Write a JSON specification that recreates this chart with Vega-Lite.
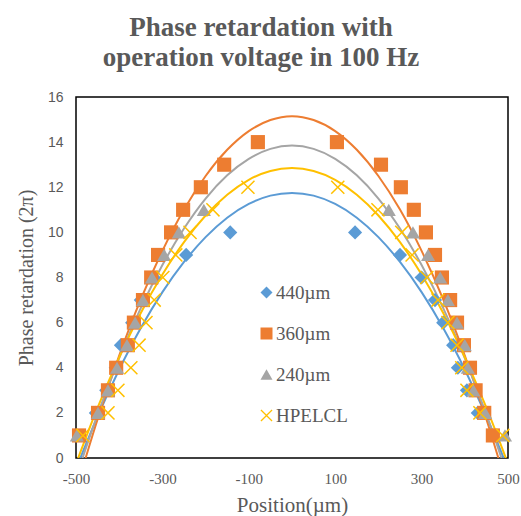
{
  "$schema": "https://vega.github.io/schema/vega-lite/v6.json",
  "width": 432,
  "height": 361,
  "autosize": {"type": "none"},
  "padding": {"left": 76, "top": 97, "right": 13, "bottom": 58},
  "title": {
    "text": ["Phase retardation with", "operation voltage in 100 Hz"],
    "font": "Liberation Serif",
    "fontSize": 27,
    "fontWeight": "bold",
    "color": "#595959",
    "lineHeight": 30,
    "anchor": "middle",
    "frame": "group",
    "dx": -31,
    "offset": 18
  },
  "config": {
    "view": {"stroke": "#000000", "strokeWidth": 1.5},
    "axis": {"grid": false, "domain": false, "ticks": false, "labelColor": "#595959", "titleColor": "#595959", "titleFont": "Liberation Serif", "titleFontWeight": "normal"},
    "axisX": {"labelFont": "Liberation Serif", "labelFontSize": 15},
    "axisY": {"labelFont": "Liberation Sans", "labelFontSize": 14},
    "legend": {"labelFont": "Liberation Serif", "labelFontSize": 19, "labelColor": "#595959", "labelOffset": 0, "symbolSize": 144, "rowPadding": 21, "padding": 0, "symbolStrokeWidth": 0}
  },
  "datasets": {
    "fit": [
      {"series": "440µm", "x": -500, "y": -0.48}, {"series": "440µm", "x": -450, "y": 1.84}, {"series": "440µm", "x": -400, "y": 3.92}, {"series": "440µm", "x": -350, "y": 5.76}, {"series": "440µm", "x": -300, "y": 7.35}, {"series": "440µm", "x": -250, "y": 8.69}, {"series": "440µm", "x": -200, "y": 9.79}, {"series": "440µm", "x": -150, "y": 10.65}, {"series": "440µm", "x": -100, "y": 11.26}, {"series": "440µm", "x": -50, "y": 11.63}, {"series": "440µm", "x": 0, "y": 11.75}, {"series": "440µm", "x": 50, "y": 11.63}, {"series": "440µm", "x": 100, "y": 11.26}, {"series": "440µm", "x": 150, "y": 10.65}, {"series": "440µm", "x": 200, "y": 9.79}, {"series": "440µm", "x": 250, "y": 8.69}, {"series": "440µm", "x": 300, "y": 7.35}, {"series": "440µm", "x": 350, "y": 5.76}, {"series": "440µm", "x": 400, "y": 3.92}, {"series": "440µm", "x": 450, "y": 1.84}, {"series": "440µm", "x": 500, "y": -0.48},
      {"series": "360µm", "x": -500, "y": -1.43}, {"series": "360µm", "x": -450, "y": 1.72}, {"series": "360µm", "x": -400, "y": 4.54}, {"series": "360µm", "x": -350, "y": 7.03}, {"series": "360µm", "x": -300, "y": 9.18}, {"series": "360µm", "x": -250, "y": 11.01}, {"series": "360µm", "x": -200, "y": 12.5}, {"series": "360µm", "x": -150, "y": 13.66}, {"series": "360µm", "x": -100, "y": 14.49}, {"series": "360µm", "x": -50, "y": 14.98}, {"series": "360µm", "x": 0, "y": 15.15}, {"series": "360µm", "x": 50, "y": 14.98}, {"series": "360µm", "x": 100, "y": 14.49}, {"series": "360µm", "x": 150, "y": 13.66}, {"series": "360µm", "x": 200, "y": 12.5}, {"series": "360µm", "x": 250, "y": 11.01}, {"series": "360µm", "x": 300, "y": 9.18}, {"series": "360µm", "x": 350, "y": 7.03}, {"series": "360µm", "x": 400, "y": 4.54}, {"series": "360µm", "x": 450, "y": 1.72}, {"series": "360µm", "x": 500, "y": -1.43},
      {"series": "240µm", "x": -500, "y": -0.87}, {"series": "240µm", "x": -450, "y": 1.93}, {"series": "240µm", "x": -400, "y": 4.43}, {"series": "240µm", "x": -350, "y": 6.64}, {"series": "240µm", "x": -300, "y": 8.55}, {"series": "240µm", "x": -250, "y": 10.17}, {"series": "240µm", "x": -200, "y": 11.5}, {"series": "240µm", "x": -150, "y": 12.53}, {"series": "240µm", "x": -100, "y": 13.26}, {"series": "240µm", "x": -50, "y": 13.7}, {"series": "240µm", "x": 0, "y": 13.85}, {"series": "240µm", "x": 50, "y": 13.7}, {"series": "240µm", "x": 100, "y": 13.26}, {"series": "240µm", "x": 150, "y": 12.53}, {"series": "240µm", "x": 200, "y": 11.5}, {"series": "240µm", "x": 250, "y": 10.17}, {"series": "240µm", "x": 300, "y": 8.55}, {"series": "240µm", "x": 350, "y": 6.64}, {"series": "240µm", "x": 400, "y": 4.43}, {"series": "240µm", "x": 450, "y": 1.93}, {"series": "240µm", "x": 500, "y": -0.87},
      {"series": "HPELCL", "x": -500, "y": -0.26}, {"series": "HPELCL", "x": -450, "y": 2.23}, {"series": "HPELCL", "x": -400, "y": 4.46}, {"series": "HPELCL", "x": -350, "y": 6.43}, {"series": "HPELCL", "x": -300, "y": 8.13}, {"series": "HPELCL", "x": -250, "y": 9.57}, {"series": "HPELCL", "x": -200, "y": 10.75}, {"series": "HPELCL", "x": -150, "y": 11.67}, {"series": "HPELCL", "x": -100, "y": 12.33}, {"series": "HPELCL", "x": -50, "y": 12.72}, {"series": "HPELCL", "x": 0, "y": 12.85}, {"series": "HPELCL", "x": 50, "y": 12.72}, {"series": "HPELCL", "x": 100, "y": 12.33}, {"series": "HPELCL", "x": 150, "y": 11.67}, {"series": "HPELCL", "x": 200, "y": 10.75}, {"series": "HPELCL", "x": 250, "y": 9.57}, {"series": "HPELCL", "x": 300, "y": 8.13}, {"series": "HPELCL", "x": 350, "y": 6.43}, {"series": "HPELCL", "x": 400, "y": 4.46}, {"series": "HPELCL", "x": 450, "y": 2.23}, {"series": "HPELCL", "x": 500, "y": -0.26}
    ],
    "pts": [
      {"series": "440µm", "x": -454, "y": 2}, {"series": "440µm", "x": -430, "y": 3}, {"series": "440µm", "x": -408, "y": 4}, {"series": "440µm", "x": -396, "y": 5}, {"series": "440µm", "x": -370, "y": 6}, {"series": "440µm", "x": -350, "y": 7}, {"series": "440µm", "x": -320, "y": 8}, {"series": "440µm", "x": -245, "y": 9}, {"series": "440µm", "x": -143, "y": 10},
      {"series": "440µm", "x": 146, "y": 10}, {"series": "440µm", "x": 250, "y": 9}, {"series": "440µm", "x": 300, "y": 8}, {"series": "440µm", "x": 331, "y": 7}, {"series": "440µm", "x": 350, "y": 6}, {"series": "440µm", "x": 373, "y": 5}, {"series": "440µm", "x": 384, "y": 4}, {"series": "440µm", "x": 405, "y": 3}, {"series": "440µm", "x": 430, "y": 2},
      {"series": "360µm", "x": -493, "y": 1}, {"series": "360µm", "x": -449, "y": 2}, {"series": "360µm", "x": -426, "y": 3}, {"series": "360µm", "x": -407, "y": 4}, {"series": "360µm", "x": -380, "y": 5}, {"series": "360µm", "x": -366, "y": 6}, {"series": "360µm", "x": -345, "y": 7}, {"series": "360µm", "x": -326, "y": 8}, {"series": "360µm", "x": -310, "y": 9}, {"series": "360µm", "x": -280, "y": 10}, {"series": "360µm", "x": -252, "y": 11}, {"series": "360µm", "x": -211, "y": 12}, {"series": "360µm", "x": -157, "y": 13}, {"series": "360µm", "x": -79, "y": 14},
      {"series": "360µm", "x": 104, "y": 14}, {"series": "360µm", "x": 206, "y": 13}, {"series": "360µm", "x": 252, "y": 12}, {"series": "360µm", "x": 282, "y": 11}, {"series": "360µm", "x": 310, "y": 10}, {"series": "360µm", "x": 331, "y": 9}, {"series": "360µm", "x": 347, "y": 8}, {"series": "360µm", "x": 366, "y": 7}, {"series": "360µm", "x": 382, "y": 6}, {"series": "360µm", "x": 398, "y": 5}, {"series": "360µm", "x": 412, "y": 4}, {"series": "360µm", "x": 425, "y": 3}, {"series": "360µm", "x": 445, "y": 2}, {"series": "360µm", "x": 465, "y": 1},
      {"series": "240µm", "x": -498, "y": 1}, {"series": "240µm", "x": -449, "y": 2}, {"series": "240µm", "x": -426, "y": 3}, {"series": "240µm", "x": -405, "y": 4}, {"series": "240µm", "x": -382, "y": 5}, {"series": "240µm", "x": -363, "y": 6}, {"series": "240µm", "x": -345, "y": 7}, {"series": "240µm", "x": -324, "y": 8}, {"series": "240µm", "x": -296, "y": 9}, {"series": "240µm", "x": -262, "y": 10}, {"series": "240µm", "x": -204, "y": 11},
      {"series": "240µm", "x": 224, "y": 11}, {"series": "240µm", "x": 280, "y": 10}, {"series": "240µm", "x": 315, "y": 9}, {"series": "240µm", "x": 343, "y": 8}, {"series": "240µm", "x": 361, "y": 7}, {"series": "240µm", "x": 382, "y": 6}, {"series": "240µm", "x": 400, "y": 5}, {"series": "240µm", "x": 407, "y": 4}, {"series": "240µm", "x": 420, "y": 3}, {"series": "240µm", "x": 447, "y": 2}, {"series": "240µm", "x": 493, "y": 1},
      {"series": "HPELCL", "x": -484, "y": 1}, {"series": "HPELCL", "x": -426, "y": 2}, {"series": "HPELCL", "x": -403, "y": 3}, {"series": "HPELCL", "x": -373, "y": 4}, {"series": "HPELCL", "x": -354, "y": 5}, {"series": "HPELCL", "x": -338, "y": 6}, {"series": "HPELCL", "x": -319, "y": 7}, {"series": "HPELCL", "x": -299, "y": 8}, {"series": "HPELCL", "x": -269, "y": 9}, {"series": "HPELCL", "x": -236, "y": 10}, {"series": "HPELCL", "x": -183, "y": 11}, {"series": "HPELCL", "x": -102, "y": 12},
      {"series": "HPELCL", "x": 106, "y": 12}, {"series": "HPELCL", "x": 199, "y": 11}, {"series": "HPELCL", "x": 254, "y": 10}, {"series": "HPELCL", "x": 278, "y": 9}, {"series": "HPELCL", "x": 312, "y": 8}, {"series": "HPELCL", "x": 338, "y": 7}, {"series": "HPELCL", "x": 361, "y": 6}, {"series": "HPELCL", "x": 382, "y": 5}, {"series": "HPELCL", "x": 393, "y": 4}, {"series": "HPELCL", "x": 405, "y": 3}, {"series": "HPELCL", "x": 435, "y": 2}, {"series": "HPELCL", "x": 488, "y": 1}
    ]
  },
  "layer": [
    {
      "data": {"name": "fit"},
      "mark": {"type": "line", "clip": true, "strokeWidth": 2, "interpolate": "monotone"},
      "encoding": {
        "x": {"field": "x", "type": "quantitative", "scale": {"domain": [-500, 500], "nice": false},
          "axis": {"values": [-500, -300, -100, 100, 300, 500], "title": "Position(µm)", "labelFlush": false,
            "labelExpr": "datum.value < 0 ? '-' + abs(datum.value) : '' + datum.value",
            "labelFont": "Liberation Serif", "labelFontSize": 15, "labelPadding": 13,
            "titleFontSize": 21, "titlePadding": 8}},
        "y": {"field": "y", "type": "quantitative", "scale": {"domain": [0, 16], "nice": false},
          "axis": {"values": [0, 2, 4, 6, 8, 10, 12, 14, 16], "title": "Phase retardation (2π)",
            "labelFont": "Liberation Sans", "labelFontSize": 14, "labelPadding": 13,
            "titleFontSize": 20, "titlePadding": 11}},
        "color": {"field": "series", "type": "nominal",
          "scale": {"domain": ["440µm", "360µm", "240µm", "HPELCL"], "range": ["#5B9BD5", "#ED7D31", "#A5A5A5", "#FFC000"]}},
        "detail": {"field": "series"}
      }
    },
    {
      "data": {"name": "pts"},
      "mark": {"type": "point", "filled": true, "opacity": 1, "size": 200, "strokeWidth": 0},
      "encoding": {
        "x": {"field": "x", "type": "quantitative"},
        "y": {"field": "y", "type": "quantitative"},
        "color": {"field": "series", "type": "nominal",
          "scale": {"domain": ["440µm", "360µm", "240µm", "HPELCL"], "range": ["#5B9BD5", "#ED7D31", "#A5A5A5", "#FFC000"]},
          "legend": {"orient": "none", "legendX": 181, "legendY": 186, "title": null,
            "encode": {"labels": {"update": {"font": {"value": "Liberation Serif"}, "fontSize": {"value": 19}, "fill": {"value": "#595959"}}}}}},
        "shape": {"field": "series", "type": "nominal",
          "scale": {"domain": ["440µm", "360µm", "240µm", "HPELCL"], "range": ["diamond", "square", "triangle-up", "M-1,-0.85L-0.85,-1L0,-0.15L0.85,-1L1,-0.85L0.15,0L1,0.85L0.85,1L0,0.15L-0.85,1L-1,0.85L-0.15,0Z"]},
          "legend": {"orient": "none", "legendX": 181, "legendY": 186, "title": null,
            "encode": {"labels": {"update": {"font": {"value": "Liberation Serif"}, "fontSize": {"value": 19}, "fill": {"value": "#595959"}}}}}}
      }
    }
  ]
}
